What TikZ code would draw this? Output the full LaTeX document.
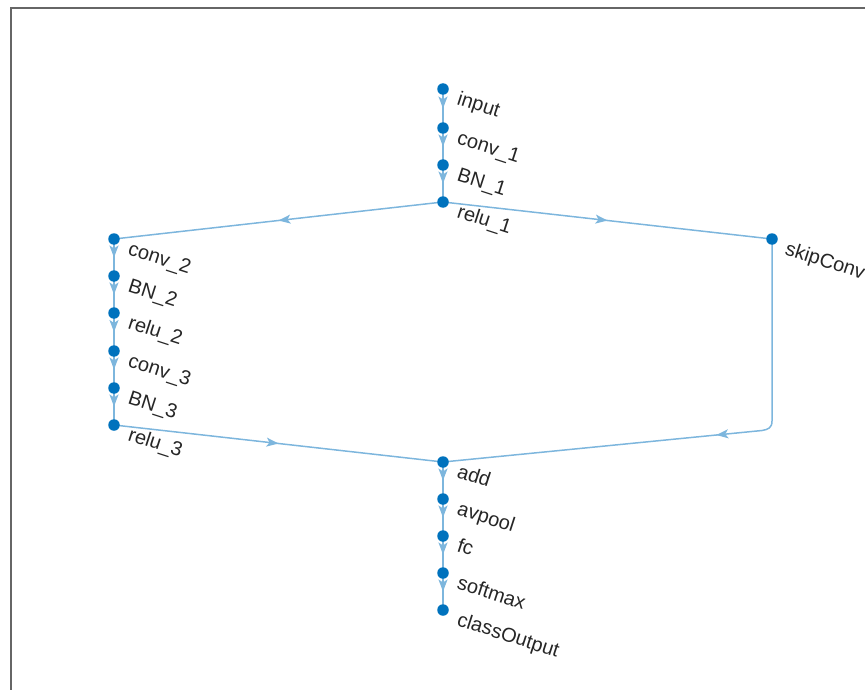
\documentclass[tikz,border=0pt]{standalone}
\usepackage{fontspec}
\setmainfont{Liberation Sans}
\usetikzlibrary{arrows.meta,decorations.markings,backgrounds}
\definecolor{nodeblue}{HTML}{0072BD}
\definecolor{edgeblue}{HTML}{7DB6DD}
\definecolor{framegray}{HTML}{666666}
\begin{document}
\begin{tikzpicture}[x=1pt,y=-1pt,
  vert/.style={circle,fill=nodeblue,inner sep=0pt,minimum size=11.5pt},
  lbl/.style={anchor=base west,rotate=-18,inner sep=0pt,font=\fontsize{20}{24}\selectfont,text=black!85},
  conn/.style={draw=edgeblue,line width=1.5pt,postaction={decorate},
    decoration={markings,mark=at position #1 with {\arrow[edgeblue]{Stealth[length=12pt,width=9pt,inset=3pt]}}}},
  conn/.default=0.5]
\useasboundingbox (0,0) rectangle (865,690);
\clip (0,0) rectangle (865,690);
\draw[framegray,line width=2pt] (11,700) -- (11,8) -- (875,8);

% nodes
\node[vert] (input) at (443,89) {};
\node[vert] (conv1) at (443,128) {};
\node[vert] (bn1) at (443,165) {};
\node[vert] (relu1) at (443,202) {};
\node[vert] (conv2) at (114,239) {};
\node[vert] (bn2) at (114,276) {};
\node[vert] (relu2) at (114,313) {};
\node[vert] (conv3) at (114,351) {};
\node[vert] (bn3) at (114,388) {};
\node[vert] (relu3) at (114,425) {};
\node[vert] (skip) at (772,239) {};
\node[vert] (add) at (443,462) {};
\node[vert] (avpool) at (443,499) {};
\node[vert] (fc) at (443,536) {};
\node[vert] (softmax) at (443,573) {};
\node[vert] (out) at (443,610) {};

% labels
\node[lbl] (l-input) at (456,104) {input};
\node[lbl] (l-conv1) at (456,143) {conv\_1};
\node[lbl] (l-bn1) at (456,180) {BN\_1};
\node[lbl] (l-relu1) at (456,217) {relu\_1};
\node[lbl] (l-conv2) at (127,254) {conv\_2};
\node[lbl] (l-bn2) at (127,291) {BN\_2};
\node[lbl] (l-relu2) at (127,328) {relu\_2};
\node[lbl] (l-conv3) at (127,366) {conv\_3};
\node[lbl] (l-bn3) at (127,403) {BN\_3};
\node[lbl] (l-relu3) at (127,440) {relu\_3};
\node[lbl] (l-skip) at (784,254) {skipConv};
\node[lbl] (l-add) at (456,477) {add};
\node[lbl] (l-avpool) at (456,514) {avpool};
\node[lbl] (l-fc) at (456,551) {fc};
\node[lbl] (l-softmax) at (456,588) {softmax};
\node[lbl] (l-out) at (456,625) {classOutput};

% edges
\begin{scope}[on background layer]
\draw[conn] (input.center) -- (conv1.center);
\draw[conn] (conv1.center) -- (bn1.center);
\draw[conn] (bn1.center) -- (relu1.center);
\draw[conn] (relu1.center) -- (conv2.center);
\draw[conn] (relu1.center) -- (skip.center);
\draw[conn] (conv2.center) -- (bn2.center);
\draw[conn] (bn2.center) -- (relu2.center);
\draw[conn] (relu2.center) -- (conv3.center);
\draw[conn] (conv3.center) -- (bn3.center);
\draw[conn] (bn3.center) -- (relu3.center);
\draw[conn] (relu3.center) -- (add.center);
\draw[conn=0.47] (skip.center) -- (skip.center |- 0,421) .. controls (772,428) and (768,429.5) .. (762,430.5) -- (add.center);
\draw[conn] (add.center) -- (avpool.center);
\draw[conn] (avpool.center) -- (fc.center);
\draw[conn] (fc.center) -- (softmax.center);
\draw[conn] (softmax.center) -- (out.center);
\end{scope}
\end{tikzpicture}
\end{document}
